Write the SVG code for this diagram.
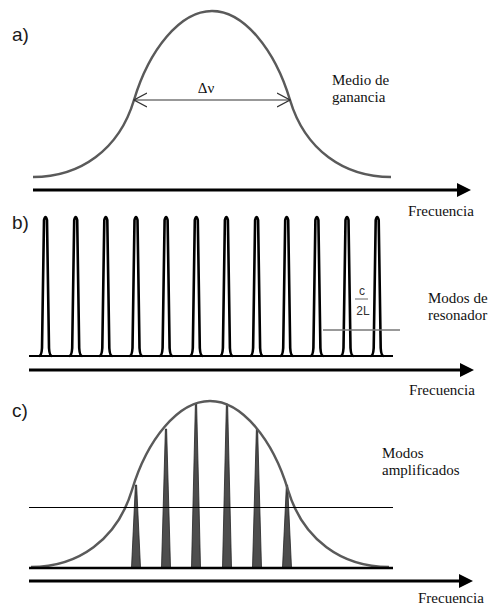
<svg xmlns="http://www.w3.org/2000/svg" xmlns:xlink="http://www.w3.org/1999/xlink" width="489" height="611" viewBox="0 0 489 611">
<style>
.lbl{font-family:"Liberation Sans",Arial,sans-serif;font-size:19px;fill:#1a1a1a}
.txt{font-family:"Liberation Serif",serif;font-size:15px;fill:#111}
.frac{font-family:"Liberation Sans",Arial,sans-serif;font-size:12px;fill:#333;text-anchor:middle}
.gain{fill:none;stroke:#5a5a5a;stroke-width:2.5}
.axis{stroke:#000;stroke-width:3;marker-end:url(#ah)}
.peak{fill:none;stroke:#000;stroke-width:2.6;stroke-linejoin:round}
.tri{fill:#4d4d4d;stroke:#222;stroke-width:0.8}
</style>
<defs>
<marker id="ah" markerUnits="userSpaceOnUse" markerWidth="14" markerHeight="14" viewBox="0 0 14 14" refX="2" refY="7" orient="auto">
<path d="M0,0 L14,7 L0,14 Z" fill="#000"/>
</marker>
<marker id="oa" markerUnits="userSpaceOnUse" markerWidth="14" markerHeight="16" viewBox="0 0 14 16" refX="13" refY="8" orient="auto-start-reverse">
<path d="M0,1 L13,8 L0,15" fill="none" stroke="#333" stroke-width="1.2"/>
</marker>
<path id="gauss" d="M33,177 C80,177 119,150 134,100 C149,50 180,11 212,11 C244,11 275,50 290,100 C305,150 344,177 391,177"/>
<path id="pk" d="M-6.5,0 q2.5,0 3,-8 l2,-128 q1.5,-6 3,0 l2,128 q0.5,8 3,8"/>
</defs>

<g id="panel-a">
<text class="lbl" x="12" y="41">a)</text>
<use xlink:href="#gauss" class="gain"/>
<line x1="134" y1="100" x2="290" y2="100" stroke="#333" stroke-width="1.2" marker-start="url(#oa)" marker-end="url(#oa)"/>
<text class="txt" x="206" y="93" font-size="16" text-anchor="middle">Δν</text>
<text class="txt" x="332" y="85">Medio de</text>
<text class="txt" x="332" y="102">ganancia</text>
<line class="axis" x1="33" y1="190" x2="459" y2="190"/>
<text class="txt" x="408" y="216">Frecuencia</text>
</g>

<g id="panel-b">
<text class="lbl" x="12" y="229">b)</text>
<line x1="29" y1="356" x2="393" y2="356" stroke="#000" stroke-width="2.2"/>
<g class="peak">
<use xlink:href="#pk" x="45.5" y="356"/>
<use xlink:href="#pk" x="75.7" y="356"/>
<use xlink:href="#pk" x="105.8" y="356"/>
<use xlink:href="#pk" x="136" y="356"/>
<use xlink:href="#pk" x="166.1" y="356"/>
<use xlink:href="#pk" x="196.3" y="356"/>
<use xlink:href="#pk" x="226.4" y="356"/>
<use xlink:href="#pk" x="256.6" y="356"/>
<use xlink:href="#pk" x="286.7" y="356"/>
<use xlink:href="#pk" x="316.9" y="356"/>
<use xlink:href="#pk" x="347" y="356"/>
<use xlink:href="#pk" x="377.2" y="356"/>
</g>
<line x1="323" y1="330" x2="400" y2="330" stroke="#777" stroke-width="1.5"/>
<text class="frac" x="362" y="295">c</text>
<line x1="355" y1="299" x2="368" y2="299" stroke="#666" stroke-width="1"/>
<text class="frac" x="363" y="315">2L</text>
<text class="txt" x="428" y="303">Modos de</text>
<text class="txt" x="428" y="320">resonador</text>
<line class="axis" x1="29" y1="370" x2="462" y2="370"/>
<text class="txt" x="409" y="395">Frecuencia</text>
</g>

<g id="panel-c">
<text class="lbl" x="12" y="417">c)</text>
<g class="tri">
<path d="M131.5,568 L135.4,485 L136.6,485 L140.5,568 Z"/>
<path d="M161.5,568 L165.4,429 L166.6,429 L170.5,568 Z"/>
<path d="M191.5,568 L195.4,404 L196.6,404 L200.5,568 Z"/>
<path d="M222.5,568 L226.4,404 L227.6,404 L231.5,568 Z"/>
<path d="M252.5,568 L256.4,429 L257.6,429 L261.5,568 Z"/>
<path d="M282.5,568 L286.4,485 L287.6,485 L291.5,568 Z"/>
</g>
<use xlink:href="#gauss" class="gain" transform="translate(-2,390)"/>
<line x1="29" y1="568" x2="393" y2="568" stroke="#000" stroke-width="2.5"/>
<line x1="29" y1="507.5" x2="393" y2="507.5" stroke="#000" stroke-width="1.2"/>
<text class="txt" x="382" y="458">Modos</text>
<text class="txt" x="382" y="475">amplificados</text>
<line class="axis" x1="29" y1="581" x2="461" y2="581"/>
<text class="txt" x="418" y="603">Frecuencia</text>
</g>
</svg>
